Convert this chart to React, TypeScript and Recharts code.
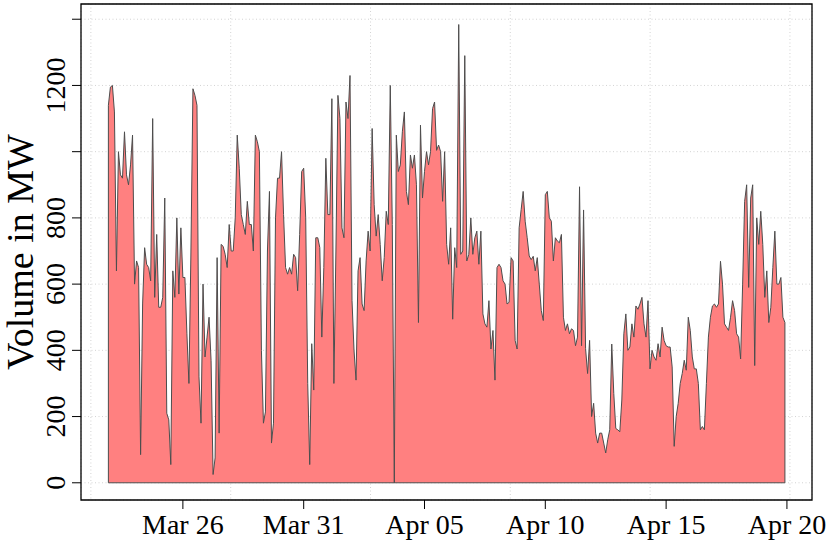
import React from 'react';
import {
  AreaChart,
  Area,
  XAxis,
  YAxis,
  CartesianGrid,
  ReferenceLine,
  ReferenceArea,
  Label
} from 'recharts';

// hours counted from Mar 23 00:00, one reading every 2 hours
const startHour = -2;
const stepHours = 2;

const volume = [
  1140, 1195, 1200, 1120, 640, 1000, 930, 920, 1060, 930,
  900, 960, 1050, 600, 670, 650, 85, 540, 710, 660,
  650, 610, 1100, 560, 750, 530, 530, 560, 860, 210,
  190, 55, 640, 560, 800, 570, 770, 620, 620, 450,
  300, 700, 1190, 1170, 1140, 320, 180, 600, 380, 440,
  500, 370, 25, 75, 680, 150, 720, 714, 690, 650,
  780, 700, 700, 800, 1050, 950, 810, 780, 750, 850,
  780, 780, 700, 1050, 1030, 1000, 400, 180, 214, 700,
  880, 120, 180, 800, 920, 920, 1000, 810, 650, 630,
  650, 630, 690, 680, 580, 750, 940, 950, 800, 300,
  55, 420, 280, 740, 740, 710, 440, 650, 980, 810,
  810, 1160, 300, 700, 1170, 1100, 770, 740, 1150, 1100,
  1230, 550, 400, 310, 640, 680, 540, 520, 670, 760,
  700, 1070, 840, 745, 810, 720, 610, 680, 820, 780,
  1200, 780, 0, 1050, 940, 960, 1060, 1120, 880, 840,
  990, 950, 990, 900, 484, 1080, 860, 940, 1000, 960,
  1000, 1130, 1150, 1004, 1020, 1000, 850, 1000, 720, 660,
  770, 494, 710, 650, 1384, 690, 700, 1290, 670, 690,
  800, 690, 740, 760, 660, 760, 510, 480, 470, 550,
  404, 460, 310, 650, 660, 650, 610, 600, 540, 545,
  680, 670, 430, 404, 770, 825, 880, 790, 740, 685,
  674, 684, 640, 680, 600, 520, 490, 870, 880, 800,
  790, 670, 740, 730, 725, 750, 500, 460, 480, 450,
  465, 460, 414, 440, 894, 414, 824, 405, 330, 430,
  200, 240, 150, 120, 150, 150, 120, 90, 130, 160,
  419, 270, 164, 160, 154, 250, 450, 510, 400, 410,
  480, 440, 534, 524, 540, 560, 480, 440, 550, 344,
  400, 380, 370, 420, 380, 470, 430, 414, 410, 410,
  350, 110, 200, 240, 300, 330, 370, 340, 500, 460,
  380, 344, 344, 300, 160, 170, 160, 300, 440, 500,
  534, 540, 530, 540, 669, 600, 480, 470, 460, 500,
  550, 520, 450, 440, 374, 600, 850, 900, 590, 860,
  900, 354, 800, 720, 820, 720, 560, 640, 484, 530,
  650, 760, 600, 600, 620, 500, 484
];

const xTicks = [72, 192, 312, 432, 552, 672];
const xTickLabels = ['Mar 26', 'Mar 31', 'Apr 05', 'Apr 10', 'Apr 15', 'Apr 20'];
const yTicks = [0, 200, 400, 600, 800, 1000, 1200, 1400];
const yTickLabels = ['0', '200', '400', '600', '800', '', '1200', ''];
// vertical grid falls on round epoch seconds, not on the date ticks
const gridHours = [-19.4, 119.5, 258.4, 397.2, 536.1, 675.0];

const X_DOMAIN = [-29.2, 696.9];
const Y_DOMAIN = [-52, 1446];

const FONT = '"Liberation Serif", "Times New Roman", serif';

const data = volume.map((v, i) => ({ hour: startHour + i * stepHours, volume: v }));
const first = data[0];
const last = data[data.length - 1];

const XTick = ({ x, y, payload }: any) => (
  <text x={x} y={y} dy="0.71em" textAnchor="middle" fontSize={28} fontFamily={FONT} fill="#000">
    {xTickLabels[xTicks.indexOf(payload.value)]}
  </text>
);

const YTick = ({ x, y, payload }: any) => (
  <text
    x={x}
    y={y}
    transform={`rotate(-90, ${x}, ${y})`}
    textAnchor="middle"
    fontSize={28}
    fontFamily={FONT}
    fill="#000"
  >
    {yTickLabels[yTicks.indexOf(payload.value)]}
  </text>
);

const YLabel = ({ viewBox }: any) => {
  const cx = viewBox.x + 33;
  const cy = viewBox.y + viewBox.height / 2;
  return (
    <text
      x={cx}
      y={cy}
      transform={`rotate(-90, ${cx}, ${cy})`}
      textAnchor="middle"
      fontSize={38}
      fontFamily={FONT}
      fill="#000"
    >
      Volume in MW
    </text>
  );
};

export default function App() {
  return (
    <div style={{ position: 'absolute', left: 0, top: 0, width: 830, height: 554, background: '#fff' }}>
      <AreaChart width={830} height={554} data={data} margin={{ top: 4, right: 18, left: 0, bottom: 0 }}>
        <CartesianGrid stroke="#d3d3d3" strokeDasharray="1 2.5" vertical={false} />
        <CartesianGrid xAxisId="grid" stroke="#d3d3d3" strokeDasharray="1 2.5" horizontal={false} />
        <XAxis xAxisId="grid" dataKey="hour" type="number" domain={X_DOMAIN} ticks={gridHours} hide allowDataOverflow />
        <XAxis
          dataKey="hour"
          type="number"
          domain={X_DOMAIN}
          ticks={xTicks}
          height={54}
          tickSize={9}
          tickMargin={5}
          tickLine={{ stroke: '#000' }}
          axisLine={false}
          tick={<XTick />}
          interval={0}
          allowDataOverflow
        />
        <YAxis
          type="number"
          domain={Y_DOMAIN}
          ticks={yTicks}
          width={81}
          tickSize={9}
          tickMargin={7}
          tickLine={{ stroke: '#000' }}
          axisLine={false}
          tick={<YTick />}
          interval={0}
          allowDataOverflow
        >
          <Label content={<YLabel />} />
        </YAxis>
        <Area
          type="linear"
          dataKey="volume"
          baseValue={0}
          stroke="#4d4d4d"
          strokeWidth={1}
          fill="#ff8080"
          fillOpacity={1}
          dot={false}
          activeDot={false}
          isAnimationActive={false}
        />
        <ReferenceLine segment={[{ x: first.hour, y: 0 }, { x: last.hour, y: 0 }]} stroke="#4d4d4d" strokeWidth={1} />
        <ReferenceLine segment={[{ x: first.hour, y: 0 }, { x: first.hour, y: first.volume }]} stroke="#4d4d4d" strokeWidth={1} />
        <ReferenceLine segment={[{ x: last.hour, y: 0 }, { x: last.hour, y: last.volume }]} stroke="#4d4d4d" strokeWidth={1} />
        <ReferenceArea
          x1={X_DOMAIN[0]}
          x2={X_DOMAIN[1]}
          y1={Y_DOMAIN[0]}
          y2={Y_DOMAIN[1]}
          fill="none"
          stroke="#000"
          strokeWidth={1.3}
          ifOverflow="visible"
        />
      </AreaChart>
    </div>
  );
}
